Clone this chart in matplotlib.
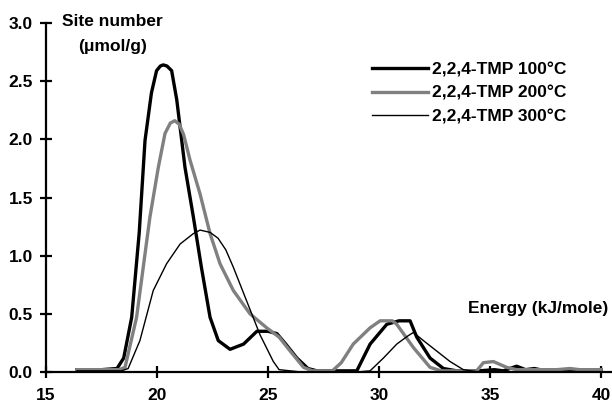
import matplotlib
matplotlib.use("Agg")
import matplotlib.pyplot as plt

plt.rcParams['font.family'] = ['Liberation Sans', 'DejaVu Sans']
plt.rcParams['font.weight'] = 'bold'

series_labels = ["2,2,4-TMP 100\u00b0C", "2,2,4-TMP 200\u00b0C", "2,2,4-TMP 300\u00b0C"]

x_100 = [16.4, 17.5, 18.2, 18.5, 18.86, 19.2, 19.46, 19.75, 19.98, 20.15, 20.28, 20.45, 20.66,
         20.89, 21.26, 21.64, 22.0, 22.39, 22.76, 23.29, 23.9, 24.5, 25.0, 25.4, 25.8, 26.3,
         26.8, 27.2, 28.0, 29.0, 29.6, 30.35, 30.9, 31.4, 31.7, 32.3, 32.9, 33.5, 34.5, 35.2,
         35.6, 36.2, 36.6, 37.0, 37.5, 38.0, 38.5, 39.0, 39.5, 40.0]
y_100 = [0.02, 0.02, 0.03, 0.12, 0.47, 1.2, 1.99, 2.4, 2.59, 2.63, 2.64, 2.63, 2.59,
         2.34, 1.76, 1.33, 0.90, 0.47, 0.27, 0.195, 0.24, 0.35, 0.35, 0.33, 0.24, 0.12,
         0.03, 0.01, 0.01, 0.01, 0.24, 0.41, 0.44, 0.44, 0.30, 0.12, 0.03, 0.01, 0.01, 0.02,
         0.01, 0.05, 0.02, 0.03, 0.01, 0.02, 0.01, 0.02, 0.01, 0.02]

x_200 = [16.4, 17.5, 18.3, 18.56, 19.08, 19.68, 20.06, 20.36, 20.6, 20.8, 21.0, 21.2, 21.49,
         21.94, 22.39, 22.84, 23.44, 24.19, 24.94, 25.5, 26.0, 26.6, 27.0, 27.9, 28.3, 28.84,
         29.6, 30.05, 30.6, 30.8, 31.55, 32.3, 32.8, 34.4, 34.7, 35.15, 35.75, 36.2, 37.0,
         38.0, 38.6, 39.05, 39.5, 40.0]
y_200 = [0.02, 0.02, 0.02, 0.04, 0.47, 1.33, 1.76, 2.05, 2.14, 2.16, 2.13, 2.04, 1.82,
         1.53, 1.19, 0.93, 0.70, 0.50, 0.38, 0.30, 0.18, 0.04, 0.01, 0.01, 0.08, 0.24,
         0.38, 0.44, 0.44, 0.41, 0.21, 0.04, 0.01, 0.01, 0.08, 0.09, 0.04, 0.02, 0.02,
         0.02, 0.03, 0.02, 0.02, 0.02]

x_300 = [16.4, 17.5, 18.4, 18.7, 19.23, 19.83, 20.43, 21.04, 21.64, 21.94, 22.39, 22.75,
         23.1, 23.44, 24.04, 24.64, 25.24, 25.5, 26.5, 28.0, 29.0, 29.6, 30.2, 30.8, 31.3,
         31.55, 32.0, 32.6, 33.2, 33.8, 34.5, 36.0, 38.0, 40.0]
y_300 = [0.01, 0.01, 0.01, 0.03, 0.27, 0.70, 0.93, 1.10, 1.19, 1.22, 1.20, 1.15,
         1.05, 0.90, 0.61, 0.32, 0.09, 0.02, 0.0, 0.0, 0.0, 0.01, 0.12, 0.24, 0.31,
         0.34, 0.27, 0.18, 0.09, 0.02, 0.0, 0.0, 0.0, 0.0]

x_ticks = [15, 20, 25, 30, 35, 40]
y_ticks = [0.0, 0.5, 1.0, 1.5, 2.0, 2.5, 3.0]

FS = 12.5

fig = plt.figure(figsize=(6.12, 4.04), dpi=100)
ax = fig.add_axes([46 / 612, 32 / 404, (612 - 46) / 612, (372 - 23) / 404])

ax.plot(x_100, y_100, color='black', lw=2.4, label=series_labels[0], solid_joinstyle='round')
ax.plot(x_200, y_200, color='#808080', lw=2.4, label=series_labels[1], solid_joinstyle='round')
ax.plot(x_300, y_300, color='black', lw=1.0, label=series_labels[2])

ax.set_xlim(15, 15 + (612 - 46) / 22.2)
ax.set_ylim(0, 3.0)
ax.set_xticks(x_ticks)
ax.set_yticks(y_ticks)
ax.set_xticklabels([str(v) for v in x_ticks])
ax.set_yticklabels([f"{v:.1f}" for v in y_ticks])

for s in ['top', 'right']:
    ax.spines[s].set_visible(False)
for s in ['left', 'bottom']:
    ax.spines[s].set_linewidth(1.6)
ax.tick_params(axis='both', direction='inout', length=9, width=1.6,
               labelsize=FS)
ax.tick_params(axis='x', pad=7)
ax.tick_params(axis='y', pad=5)
for lab in ax.get_xticklabels() + ax.get_yticklabels():
    lab.set_fontweight('bold')

fig.text(112 / 612, 1 - 22 / 404, "Site number", ha='center', va='center',
         fontsize=FS, fontweight='bold')
fig.text(113 / 612, 1 - 47 / 404, "(\u03bcmol/g)", ha='center', va='center',
         fontsize=FS, fontweight='bold')
fig.text(608 / 612, 1 - 308 / 404, "Energy (kJ/mole)", ha='right', va='center',
         fontsize=FS, fontweight='bold')

leg = ax.legend(loc='upper left', bbox_to_anchor=(372 / 612, 1 - 62 / 404),
                bbox_transform=fig.transFigure, frameon=False, fontsize=FS,
                handlelength=3.2, handletextpad=0.25, labelspacing=0.48,
                borderaxespad=0, borderpad=0)
for t in leg.get_texts():
    t.set_fontweight('bold')

fig.savefig("out.png", dpi=100)
